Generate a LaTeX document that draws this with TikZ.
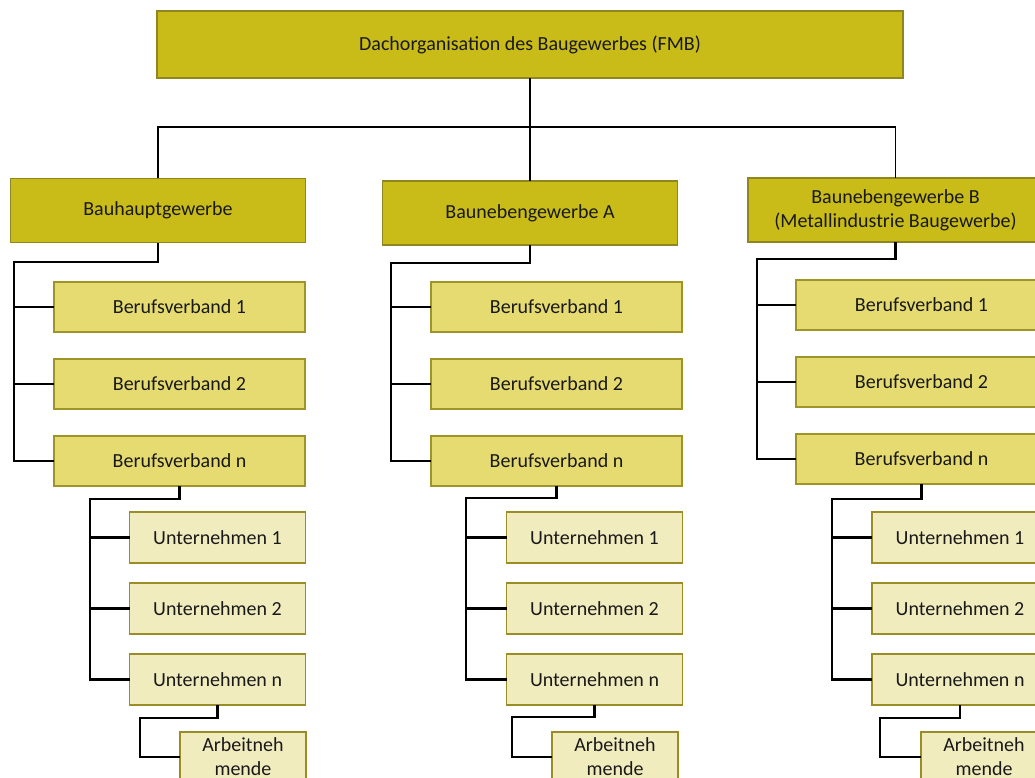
\documentclass[tikz,border=0pt]{standalone}
\usepackage{fontspec}
\setmainfont{Carlito}
\usepackage{tikz}
\usetikzlibrary{positioning}
\definecolor{dachfill}{HTML}{C9BC19}
\definecolor{dachline}{HTML}{8F8620}
\definecolor{verbfill}{HTML}{E5DB70}
\definecolor{verbline}{HTML}{9F9427}
\definecolor{firmfill}{HTML}{F1ECBE}
\definecolor{firmline}{HTML}{9A8D28}

\begin{document}
\begin{tikzpicture}[x=1pt,y=-1pt]
    \tikzstyle{box}=[rectangle, outer sep=0pt, inner sep=2pt, align=center, text=black!90, font=\fontsize{20}{24}\selectfont, line width=1.8pt]
    \tikzstyle{dach}=[box, fill=dachfill, draw=dachline, minimum width=746pt, minimum height=67pt]
    \tikzstyle{gewerbe}=[box, fill=dachfill, draw=dachline, minimum width=295pt, minimum height=64pt]
    \tikzstyle{verband}=[box, fill=verbfill, draw=verbline, minimum width=251pt, minimum height=50pt]
    \tikzstyle{firma}=[box, fill=firmfill, draw=firmline, minimum width=176pt, minimum height=51pt]
    \tikzstyle{arbeit}=[box, fill=firmfill, draw=firmline, minimum width=126pt, minimum height=50pt]
    \tikzstyle{connect}=[line width=2.2pt]
    \tikzstyle{connecttop}=[line width=1.6pt]
      \useasboundingbox (0,0) rectangle (1035,778);
      \clip (0,0) rectangle (1035,778);

      \node[dach] (fmb) at (530,44.5) {Dachorganisation des Baugewerbes (FMB)};

      \node[gewerbe] (haupt) at (158,210.5) {Bauhauptgewerbe};
      \node[gewerbe] (nebenA) at (530,213) {Baunebengewerbe A};
      \node[gewerbe] (nebenB) at (895.5,210) {Baunebengewerbe B\\(Metallindustrie Baugewerbe)};

      % Bauhauptgewerbe
      \node[verband] (bv11) at (179.5,307) {Berufsverband 1};
      \node[verband] (bv12) [below=27pt of bv11] {Berufsverband 2};
      \node[verband] (bv13) [below=27pt of bv12] {Berufsverband n};
      \node[firma] (u11) at (217.5,537.5) {Unternehmen 1};
      \node[firma] (u12) [below=20pt of u11] {Unternehmen 2};
      \node[firma] (u13) [below=20pt of u12] {Unternehmen n};
      \node[arbeit] (an1) at (243,757) {Arbeitneh\\mende};

      % Baunebengewerbe A
      \node[verband] (bv21) at (556.5,307) {Berufsverband 1};
      \node[verband] (bv22) [below=27pt of bv21] {Berufsverband 2};
      \node[verband] (bv23) [below=27pt of bv22] {Berufsverband n};
      \node[firma] (u21) at (594.5,537.5) {Unternehmen 1};
      \node[firma] (u22) [below=20pt of u21] {Unternehmen 2};
      \node[firma] (u23) [below=20pt of u22] {Unternehmen n};
      \node[arbeit] (an2) at (615,757) {Arbeitneh\\mende};

      % Baunebengewerbe B
      \node[verband] (bv31) at (921.5,305) {Berufsverband 1};
      \node[verband] (bv32) [below=27pt of bv31] {Berufsverband 2};
      \node[verband] (bv33) [below=27pt of bv32] {Berufsverband n};
      \node[firma] (u31) at (960,537.5) {Unternehmen 1};
      \node[firma] (u32) [below=20pt of u31] {Unternehmen 2};
      \node[firma] (u33) [below=20pt of u32] {Unternehmen n};
      \node[arbeit] (an3) at (984,757) {Arbeitneh\\mende};

      \coordinate (bus) at (530,127);
      \coordinate (k1) at (14,262);
      \coordinate (m1) at (90,499);
      \coordinate (n1) at (140,718);
      \coordinate (k2) at (391,263);
      \coordinate (m2) at (466,498);
      \coordinate (n2) at (512,717);
      \coordinate (k3) at (757,259);
      \coordinate (m3) at (832,499);
      \coordinate (n3) at (880,718);

      \draw[connecttop] (fmb.south) -- (bus) -| (haupt.north);
      \draw[connecttop] (bus) -| (nebenB.north);
      \draw[connecttop] (bus) -- (nebenA.north);

      \draw[connect] (haupt.south) |- (k1) |- (bv13.west);
      \draw[connect] (k1) |- (bv11.west);
      \draw[connect] (k1) |- (bv12.west);
      \draw[connect] (bv13.south) |- (m1) |- (u13.west);
      \draw[connect] (m1) |- (u11.west);
      \draw[connect] (m1) |- (u12.west);
      \draw[connect] (u13.south) |- (n1) |- (an1.west);

      \draw[connect] (nebenA.south) |- (k2) |- (bv23.west);
      \draw[connect] (k2) |- (bv21.west);
      \draw[connect] (k2) |- (bv22.west);
      \draw[connect] (bv23.south) |- (m2) |- (u23.west);
      \draw[connect] (m2) |- (u21.west);
      \draw[connect] (m2) |- (u22.west);
      \draw[connect] (u23.south) |- (n2) |- (an2.west);

      \draw[connect] (nebenB.south) |- (k3) |- (bv33.west);
      \draw[connect] (k3) |- (bv31.west);
      \draw[connect] (k3) |- (bv32.west);
      \draw[connect] (bv33.south) |- (m3) |- (u33.west);
      \draw[connect] (m3) |- (u31.west);
      \draw[connect] (m3) |- (u32.west);
      \draw[connect] (u33.south) |- (n3) |- (an3.west);
    \end{tikzpicture}
\end{document}
